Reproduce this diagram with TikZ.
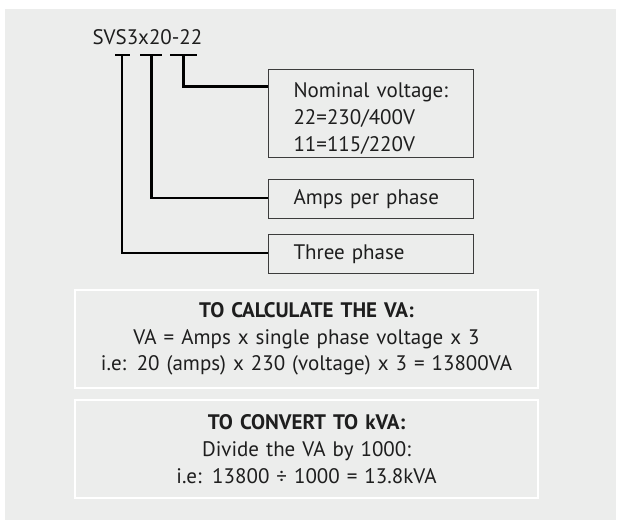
\documentclass[tikz,border=0pt]{standalone}
\usepackage{fontspec}
\setmainfont{PT Sans}
\usetikzlibrary{positioning}
\definecolor{panelgrey}{RGB}{236,237,236}
\definecolor{inkgrey}{RGB}{30,30,30}
\definecolor{edgegrey}{RGB}{60,60,60}

\begin{document}
\begin{tikzpicture}[
  x=1pt, y=-1pt,
  font=\fontsize{21}{27.3}\selectfont, text=inkgrey,
  keybox/.style = {rectangle, draw=edgegrey, line width=1pt, text width=155pt,
                   inner xsep=25pt, inner ysep=0pt, align=left, anchor=north west},
  calcbox/.style = {rectangle, draw=white, line width=1.5pt, fill=panelgrey,
                    text width=463pt, inner xsep=0pt, align=center,
                    minimum height=98pt, font=\fontsize{21}{26.7}\selectfont},
  lead/.style = {line width=2.6pt, color=black},
]
\useasboundingbox (0,0) rectangle (617,520);
\fill[panelgrey] (5,9) rectangle (616,520);

\node[anchor=base west] (code) at (89,44) {SVS3x20-22};

\node[keybox, minimum height=87.4pt] (nominal) at (268,69.3)
  {\rule{0pt}{25pt}Nominal~voltage:\\22=230/400V\\11=115/220V};
\node[keybox, minimum height=39pt, below=21.6pt of nominal] (amps) {Amps~per~phase};
\node[keybox, minimum height=38.7pt, below=15pt of amps] (three) {Three phase};

\coordinate (tick1) at (122,55);
\coordinate (tick2) at (151.5,55);
\coordinate (tick3) at (183.5,55);

\draw[lead] ([xshift=-7pt]tick1) -- ([xshift=8pt]tick1);
\draw[lead] ([xshift=-11.5pt]tick2) -- ([xshift=10.5pt]tick2);
\draw[lead] ([xshift=-13.5pt]tick3) -- ([xshift=13.5pt]tick3);

\draw[lead] (tick3) |- ([yshift=-17.4pt]nominal.north west);
\draw[lead] (tick2) |- ([yshift=1.5pt]amps.west);
\draw[lead] (tick1) |- ([yshift=1pt]three.west);

\node[calcbox, anchor=north] (calcva) at (306.5,289.3)
  {\textbf{TO CALCULATE THE VA:}\\VA = Amps x single phase voltage x 3\\
   i.e: 20 (amps) x 230 (voltage) x 3 = 13800VA};
\node[calcbox, below=10.4pt of calcva] (calckva)
  {\textbf{TO CONVERT TO kVA:}\\Divide the VA by 1000:\\
   i.e: 13800 ÷ 1000 = 13.8kVA};
\end{tikzpicture}
\end{document}
